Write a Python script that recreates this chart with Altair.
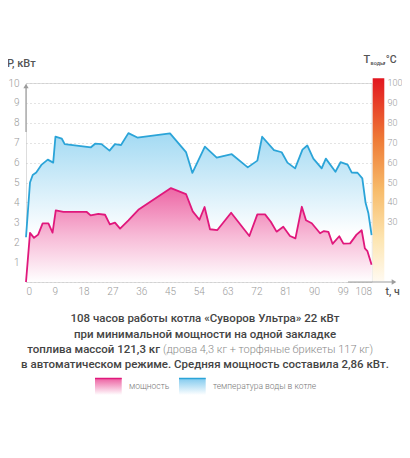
import altair as alt
import pandas as pd

# ---- data ----
hours_p = [0, 1.25, 2.5, 3.8, 5.2, 7, 8.3, 9.3, 11.7, 19, 20.2, 22.6, 24.7, 26.2, 27.8, 29.4, 32, 35.1,
           45.3, 50, 52.1, 54.2, 55.8, 57.5, 59.8, 64.1, 69.8, 72.3, 74.7, 76.5, 78.3, 80.4, 82.5, 84.2,
           86.2, 87.5, 89.3, 91.9, 93.1, 94.5, 95.8, 97.9, 99.2, 101.3, 103.3, 104.9, 105.9, 106.7, 108]
power = [0, 2.47, 2.22, 2.38, 2.95, 2.95, 2.48, 3.6, 3.52, 3.52, 3.35, 3.42, 3.38, 2.9, 2.98, 2.68, 3.1, 3.63,
         4.72, 4.42, 3.55, 3.13, 3.77, 2.65, 2.61, 3.48, 2.31, 3.4, 3.4, 3.03, 2.53, 2.78, 2.31, 2.19,
         3.78, 3.1, 2.95, 2.45, 2.56, 2.52, 1.92, 2.3, 1.93, 1.94, 2.38, 2.6, 1.69, 1.55, 0.87]

hours_t = [0, 1.25, 2.1, 3.2, 4.9, 6.8, 8.5, 9.2, 11.2, 12.1, 20.3, 21.6, 23.6, 26.1, 27.8, 29.7, 32, 34.8,
           45, 50, 52, 55.9, 59.6, 64.3, 69.3, 72.3, 73.8, 77.5, 79.9, 81.7, 84.1, 86.4, 87.9, 89.8, 92.4,
           93.7, 96.7, 98.3, 100.5, 101.8, 103.6, 105.1, 106.1, 107, 108]
temp = [22.5, 50, 53.8, 55, 59, 61.5, 60, 73, 72, 69.3, 67.7, 69.5, 69.3, 66, 69.3, 68.8, 74.8, 72.6,
        74.7, 65.3, 54.8, 68, 62.5, 64.2, 57.6, 61, 73, 66.3, 65.2, 60, 57.1, 66.5, 68.6, 62, 57.1,
        62, 55.4, 60.2, 59, 55, 54.9, 52.1, 40, 34.5, 23.6]

x_ticks = [0, 9, 18, 27, 36, 45, 54, 63, 72, 81, 90, 99, 108]
y_ticks = [0, 1, 2, 3, 4, 5, 6, 7, 8, 9, 10]
temp_ticks = [30, 40, 50, 60, 70, 80, 90, 100]

FONT = "Roboto"
PINK = "#e0187c"
BLUE = "#2ba4d8"

dfp = pd.DataFrame({"t": hours_p, "v": power})
dft = pd.DataFrame({"t": hours_t, "temp": temp})
dtt = pd.DataFrame({"temp": temp_ticks})
one = pd.DataFrame({"a": [0]})

W, H = 345.6, 199
xs = alt.Scale(domain=[0, 108], nice=False, zero=False)
ys = alt.Scale(domain=[0, 10], nice=False)

x_axis = alt.Axis(values=x_ticks, grid=False, domain=False, ticks=False, labelPadding=5,
                  labelColor="#9a9a9a", labelFontSize=10, labelFont=FONT, labelFontWeight=300, title=None)
y_axis = alt.Axis(values=y_ticks, grid=True, gridDash=[1, 3], gridColor="#c8c8c8", gridWidth=1,
                  domain=False, ticks=False, labelPadding=7, labelColor="#9a9a9a", labelFontSize=10,
                  labelFont=FONT, labelFontWeight=300, title=None,
                  labelExpr="datum.value == 0 ? '' : datum.label")

X = alt.X("t:Q", scale=xs, axis=x_axis)
Y = alt.Y("v:Q", scale=ys, axis=y_axis)

blue_grad = alt.Gradient(gradient="linear", x1=0, x2=0, y1=0, y2=1, stops=[
    alt.GradientStop(offset=0, color="#a3daf3"),
    alt.GradientStop(offset=0.35, color="#d3edf9"),
    alt.GradientStop(offset=0.68, color="#ffffff")])
pink_grad = alt.Gradient(gradient="linear", x1=0, x2=0, y1=0, y2=1, stops=[
    alt.GradientStop(offset=0, color="#ed67a5"),
    alt.GradientStop(offset=0.5, color="#f7b9d6"),
    alt.GradientStop(offset=1, color="#ffffff")])
bar_grad = alt.Gradient(gradient="linear", x1=0, x2=0, y1=0, y2=1, stops=[
    alt.GradientStop(offset=0, color="#e2161f"),
    alt.GradientStop(offset=0.3, color="#ee7a36"),
    alt.GradientStop(offset=0.55, color="#f7bb6a"),
    alt.GradientStop(offset=0.8, color="#fde6b3"),
    alt.GradientStop(offset=1, color="#fffaf0")])
leg_pink = alt.Gradient(gradient="linear", x1=0, x2=0, y1=0, y2=1, stops=[
    alt.GradientStop(offset=0, color="#ec5c9f"),
    alt.GradientStop(offset=1, color="#ffffff")])
leg_blue = alt.Gradient(gradient="linear", x1=0, x2=0, y1=0, y2=1, stops=[
    alt.GradientStop(offset=0, color="#7fc9ee"),
    alt.GradientStop(offset=1, color="#ffffff")])

tbase = alt.Chart(dft).transform_calculate(v="datum.temp / 10")

blue_area = tbase.mark_area(color=blue_grad, line=False).encode(x=X, y=Y)
pink_area = alt.Chart(dfp).mark_area(color=pink_grad).encode(x=X, y=Y)
blue_line = tbase.mark_line(color=BLUE, strokeWidth=1.8, strokeJoin="round").encode(x=X, y=Y)
pink_line = alt.Chart(dfp).mark_line(color=PINK, strokeWidth=1.8, strokeJoin="round").encode(x=X, y=Y)

# colour bar for the temperature scale
cbar = alt.Chart(one).mark_rect(color=bar_grad).encode(
    x=alt.value(346.7), x2=alt.value(358.3), y=alt.value(-4.7), y2=alt.value(198))
temp_labels = alt.Chart(dtt).transform_calculate(v="datum.temp / 10").mark_text(
    align="left", baseline="middle", font=FONT, fontSize=9, fontWeight=300, color="#9a9a9a"
).encode(x=alt.value(361.5), y=alt.Y("v:Q", scale=ys, axis=y_axis), text="temp:Q")

# axis arrows
yarrow = alt.Chart(one).mark_rule(color="#9c9c9c", strokeWidth=1.2).encode(
    x=alt.value(0), y=alt.value(4), y2=alt.value(49))
yhead = alt.Chart(one).mark_point(shape="triangle-up", filled=True, color="#9c9c9c", size=28, opacity=1).encode(
    x=alt.value(0), y=alt.value(3))
xarrow = alt.Chart(one).mark_rule(color="#9c9c9c", strokeWidth=1.2).encode(
    x=alt.value(322), x2=alt.value(366), y=alt.value(199))
xhead = alt.Chart(one).mark_point(shape="triangle-right", filled=True, color="#9c9c9c", size=28, opacity=1).encode(
    x=alt.value(368), y=alt.value(199))

def txt(s, x, y, size=11, weight="normal", color="#444444", align="left"):
    return alt.Chart(one).mark_text(text=s, align=align, baseline="middle", font=FONT, fontSize=size,
                                    fontWeight=weight, color=color).encode(x=alt.value(x), y=alt.value(y))

texts = [
    txt("P, кВт", -19, -19, size=11, weight=500, color="#555555"),
    txt("T", 337.5, -23, size=11, weight=500, color="#555555"),
    txt("воды", 344.6, -20.5, size=5.5, weight=500, color="#555555"),
    txt(",°C", 357.3, -23, size=10.5, weight=500, color="#555555"),
    txt("t, ч", 359.5, 209, size=10.5, weight=500, color="#555555"),
    txt("108 часов работы котла «Суворов Ультра» 22 кВт", 179, 236, size=11.5, weight=500, align="center"),
    txt("при минимальной мощности на одной закладке", 179, 252, size=11.5, weight=500, align="center"),
    txt("топлива массой 121,3 кг", 134, 267, size=11.5, weight=500, align="right"),
    txt("(дрова 4,3 кг + торфяные брикеты 117 кг)", 137, 267, size=11, weight=300, color="#8a8a8a"),
    txt("в автоматическом режиме. Средняя мощность составила 2,86 кВт.", 179, 282, size=11.5, weight=500,
        align="center"),
    txt("мощность", 103, 303, size=8.5, weight=300, color="#777777"),
    txt("температура воды в котле", 187, 303, size=8.5, weight=300, color="#777777"),
]

sw_pink = alt.Chart(one).mark_rect(color=leg_pink).encode(
    x=alt.value(69), x2=alt.value(95.7), y=alt.value(295), y2=alt.value(312))
sw_pink_top = alt.Chart(one).mark_rule(color=PINK, strokeWidth=1.5).encode(
    x=alt.value(69), x2=alt.value(95.7), y=alt.value(295.5))
sw_blue = alt.Chart(one).mark_rect(color=leg_blue).encode(
    x=alt.value(153), x2=alt.value(179.7), y=alt.value(295), y2=alt.value(312))
sw_blue_top = alt.Chart(one).mark_rule(color=BLUE, strokeWidth=1.5).encode(
    x=alt.value(153), x2=alt.value(179.7), y=alt.value(295.5))

chart = alt.layer(
    blue_area, pink_area, blue_line, pink_line, cbar, temp_labels,
    yarrow, yhead, xarrow, xhead, sw_pink, sw_pink_top, sw_blue, sw_blue_top, *texts
).properties(
    width=W, height=H,
    autosize=alt.AutoSizeParams(type="none"),
    padding={"left": 18, "top": 75, "right": 30, "bottom": 168},
).configure_view(stroke=None).configure(background="white")

chart.save("out.html", embed_options={"renderer": "svg", "actions": False})
